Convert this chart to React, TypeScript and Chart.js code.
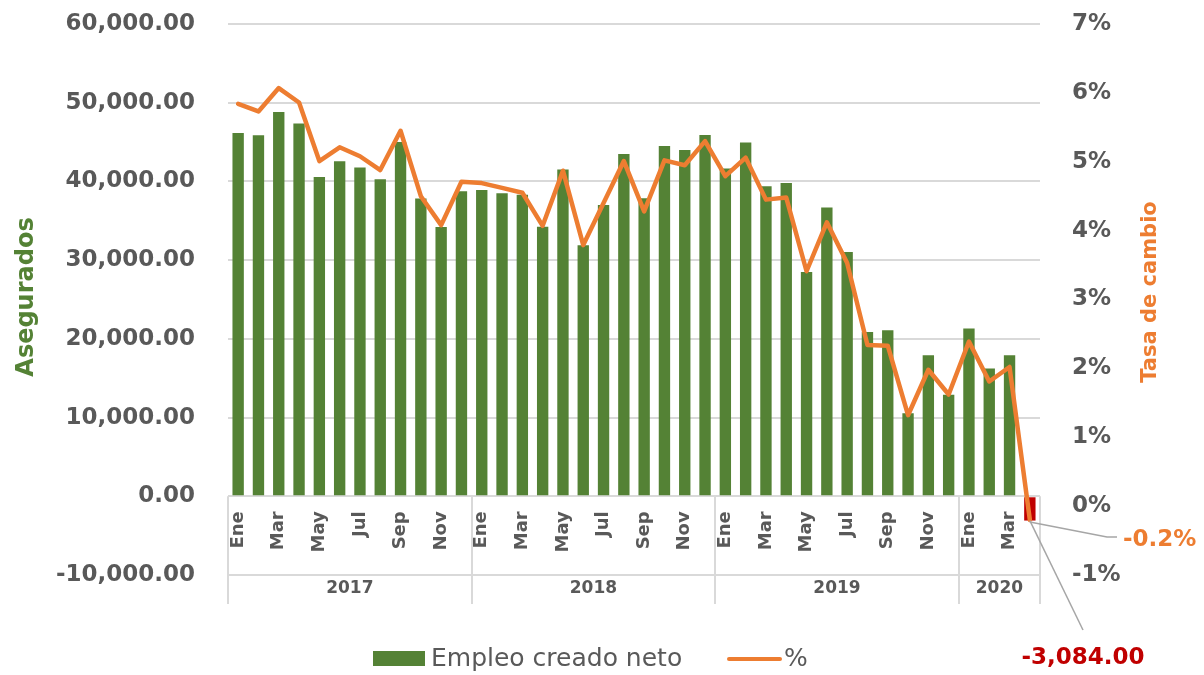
import React, { useEffect, useRef } from 'react';
import { Chart, registerables } from 'chart.js';

Chart.register(...registerables);

// ---- Data ----
const categories = [
  'Ene', 'Feb', 'Mar', 'Abr', 'May', 'Jun', 'Jul', 'Ago', 'Sep', 'Oct', 'Nov', 'Dic',
  'Ene', 'Feb', 'Mar', 'Abr', 'May', 'Jun', 'Jul', 'Ago', 'Sep', 'Oct', 'Nov', 'Dic',
  'Ene', 'Feb', 'Mar', 'Abr', 'May', 'Jun', 'Jul', 'Ago', 'Sep', 'Oct', 'Nov', 'Dic',
  'Ene', 'Feb', 'Mar', 'Abr',
];
const shownMonths = ['Ene', 'Mar', 'May', 'Jul', 'Sep', 'Nov'];
const years = ['2017', '2018', '2019', '2020'];
const yearSpans = [12, 12, 12, 4];

const empleoCreadoNeto = [
  46160, 45870, 48830, 47360, 40570, 42570, 41770, 40280, 45020, 37830, 34220, 38750,
  38900, 38500, 38300, 34250, 41520, 31900, 37000, 43480, 37850, 44500, 44000, 45900,
  41640, 44940, 39390, 39810, 28500, 36680, 31040, 20880, 21090, 10550, 17920, 12900,
  21310, 16230, 17920, -3084,
];
const tasaPct = [
  5.84, 5.73, 6.07, 5.86, 5.01, 5.21, 5.08, 4.88, 5.45, 4.5, 4.08, 4.71,
  4.69, 4.62, 4.55, 4.07, 4.87, 3.79, 4.4, 5.01, 4.28, 5.02, 4.95, 5.3,
  4.79, 5.06, 4.45, 4.48, 3.41, 4.12, 3.53, 2.34, 2.33, 1.32, 1.98, 1.62,
  2.39, 1.81, 2.02, -0.2,
];

const leftTitle = 'Asegurados';
const rightTitle = 'Tasa de cambio';
const barLabel = 'Empleo creado neto';
const lineLabel = '%';
const lastPctLabel = '-0.2%';
const lastBarLabel = '-3,084.00';

// ---- Styles ----
const GREEN = '#548235';
const ORANGE = '#ED7D31';
const RED = '#C00000';
const GRAY = '#595959';
const GRID = '#D9D9D9';
const LEADER = '#A6A6A6';
const FONT = "'DejaVu Sans', sans-serif";

const overlay = {
  id: 'overlay',
  afterDraw(chart: any) {
    const { ctx, chartArea, scales } = chart;
    const { left, right } = chartArea;
    const x = scales.x;
    const y = scales.y;
    const y1 = scales.y1;
    const n = categories.length;
    const cw = (right - left) / n;
    const y0 = y.getPixelForValue(0);
    const yB = y.getPixelForValue(-10000);

    ctx.save();
    // category box separators
    ctx.strokeStyle = GRID;
    ctx.lineWidth = 2;
    const bounds = [0];
    let acc = 0;
    yearSpans.forEach((s) => {
      acc += s;
      bounds.push(acc);
    });
    bounds.forEach((b) => {
      const px = Math.round(left + b * cw);
      ctx.beginPath();
      ctx.moveTo(px, y0);
      ctx.lineTo(px, yB + 29);
      ctx.stroke();
    });

    // month labels
    ctx.fillStyle = GRAY;
    ctx.font = `bold 18px ${FONT}`;
    ctx.textAlign = 'right';
    ctx.textBaseline = 'middle';
    categories.forEach((m, i) => {
      if (!shownMonths.includes(m)) return;
      const px = x.getPixelForValue(i);
      ctx.save();
      ctx.translate(px, y0 + 15);
      ctx.rotate(-Math.PI / 2);
      ctx.fillText(m, 0, 0);
      ctx.restore();
    });

    // year labels
    ctx.font = `bold 17px ${FONT}`;
    ctx.textAlign = 'center';
    for (let i = 0; i < years.length; i++) {
      const cx = left + ((bounds[i] + bounds[i + 1]) / 2) * cw;
      ctx.fillText(years[i], cx, yB + 14);
    }

    // axis titles
    ctx.save();
    ctx.translate(27, 297);
    ctx.rotate(-Math.PI / 2);
    ctx.fillStyle = GREEN;
    ctx.font = `bold 24px ${FONT}`;
    ctx.fillText(leftTitle, 0, 0);
    ctx.restore();

    ctx.save();
    ctx.translate(1151, 292);
    ctx.rotate(-Math.PI / 2);
    ctx.fillStyle = ORANGE;
    ctx.font = `bold 21px ${FONT}`;
    ctx.fillText(rightTitle, 0, 0);
    ctx.restore();

    // annotations
    const last = n - 1;
    const lx = x.getPixelForValue(last);
    const ly = y1.getPixelForValue(tasaPct[last]);
    const by = y.getPixelForValue(empleoCreadoNeto[last]);
    ctx.strokeStyle = LEADER;
    ctx.lineWidth = 1.5;
    ctx.beginPath();
    ctx.moveTo(lx, ly + 2);
    ctx.lineTo(1107, 537);
    ctx.lineTo(1117, 537);
    ctx.stroke();
    ctx.beginPath();
    ctx.moveTo(lx, by);
    ctx.lineTo(1083, 630);
    ctx.stroke();

    ctx.font = `bold 23px ${FONT}`;
    ctx.textAlign = 'left';
    ctx.fillStyle = ORANGE;
    ctx.fillText(lastPctLabel, 1123, 540);
    ctx.textAlign = 'center';
    ctx.fillStyle = RED;
    ctx.fillText(lastBarLabel, 1083, 658);

    // legend
    ctx.fillStyle = GREEN;
    ctx.fillRect(373, 651, 52, 15);
    ctx.fillStyle = GRAY;
    ctx.font = `25px ${FONT}`;
    ctx.textAlign = 'left';
    ctx.fillText(barLabel, 431, 659);
    ctx.strokeStyle = ORANGE;
    ctx.lineWidth = 4;
    ctx.lineCap = 'round';
    ctx.beginPath();
    ctx.moveTo(729, 659);
    ctx.lineTo(780, 659);
    ctx.stroke();
    ctx.fillText(lineLabel, 784, 659);

    ctx.restore();
  },
};

export default function App() {
  const ref = useRef<HTMLCanvasElement | null>(null);

  useEffect(() => {
    if (!ref.current) return;
    const tickFont = { family: FONT, size: 23, weight: 'bold' as const };
    const chart = new Chart(ref.current, {
      type: 'bar',
      data: {
        labels: categories,
        datasets: [
          {
            type: 'line' as const,
            label: lineLabel,
            data: tasaPct,
            yAxisID: 'y1',
            borderColor: ORANGE,
            backgroundColor: ORANGE,
            borderWidth: 4.5,
            pointRadius: 0,
            tension: 0,
            borderJoinStyle: 'round',
            borderCapStyle: 'round',
            order: 0,
          } as any,
          {
            type: 'bar' as const,
            label: barLabel,
            data: empleoCreadoNeto,
            yAxisID: 'y',
            backgroundColor: empleoCreadoNeto.map((v) => (v < 0 ? RED : GREEN)),
            barPercentage: 0.56,
            categoryPercentage: 1,
            order: 1,
          } as any,
        ],
      },
      options: {
        animation: false,
        responsive: true,
        maintainAspectRatio: false,
        layout: { padding: { top: 24, bottom: 100, left: 0, right: 0 } },
        plugins: { legend: { display: false }, tooltip: { enabled: false } },
        scales: {
          x: { display: false, offset: true },
          y: {
            position: 'left',
            min: -10000,
            max: 60000,
            ticks: {
              stepSize: 10000,
              color: GRAY,
              font: tickFont,
              padding: 33,
              callback: (v: any) =>
                Number(v).toLocaleString('en-US', { minimumFractionDigits: 2, maximumFractionDigits: 2 }),
            },
            grid: { color: GRID, lineWidth: 2, drawTicks: false },
            border: { display: false },
            afterFit: (s: any) => {
              s.width = 228;
              s.paddingTop = 0;
              s.paddingBottom = 0;
            },
          },
          y1: {
            position: 'right',
            min: -1,
            max: 7,
            ticks: {
              stepSize: 1,
              color: GRAY,
              font: tickFont,
              padding: 32,
              callback: (v: any) => `${v}%`,
            },
            grid: { display: false, drawTicks: false },
            border: { display: false },
            afterFit: (s: any) => {
              s.width = 164;
              s.paddingTop = 0;
              s.paddingBottom = 0;
            },
          },
        },
      },
      plugins: [overlay],
    });
    return () => chart.destroy();
  }, []);

  return (
    <div style={{ position: 'fixed', left: 0, top: 0, width: 1204, height: 675, background: '#fff' }}>
      <canvas ref={ref} />
    </div>
  );
}
